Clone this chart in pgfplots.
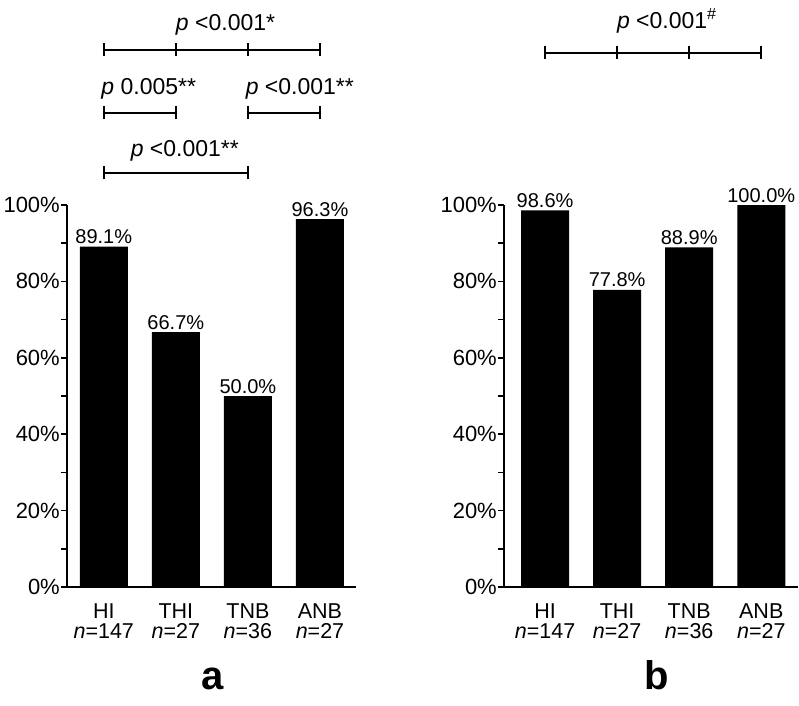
\documentclass[border=0pt]{standalone}
\usepackage{pgfplots}
\pgfplotsset{compat=1.18}
\usepackage{fontspec}
\setmainfont{Liberation Sans}
\newcommand\tk[2]{\draw[line width=1.8pt] (axis cs:#1,#2) ++(0pt,-6.5pt) -- ++(0pt,13pt);}
\begin{document}
\begin{tikzpicture}
\useasboundingbox (0pt,0pt) rectangle (799pt,705pt);
\pgfplotsset{
 panel/.style={
  scale only axis, height=382pt,
  axis lines*=left, axis line style={line width=2pt},
  ymin=0, ymax=100, ytick={0,20,...,100}, minor y tick num=1,
  tick align=outside, major tick length=6pt, minor tick length=6pt,
  tick style={line width=1.6pt, black},
  yticklabel={\pgfmathprintnumber{\tick}\%},
  /pgf/number format/assume math mode=true,
  yticklabel style={font=\fontsize{22}{24}\selectfont, inner sep=1pt},
  xtick={0,1,2,3},
  xticklabels={{HI\\\textit{n}=147},{THI\\\textit{n}=27},{TNB\\\textit{n}=36},{ANB\\\textit{n}=27}},
  xticklabel style={align=center, font=\fontsize{21.5}{20}\selectfont, yshift=-7pt},
  x tick style={draw=none},
  ybar, bar width=48pt,
  nodes near coords={\pgfmathprintnumber[fixed,fixed zerofill,precision=1]{\pgfplotspointmeta}\%},
  nodes near coords style={font=\fontsize{20}{22}\selectfont, black, inner sep=2.5pt},
  clip=false,
 }
}
\begin{axis}[panel, width=289pt, xmin=-0.51, xmax=3.5, at={(67pt,118pt)}, anchor=south west]
\addplot[fill=black, draw=none] coordinates {(0,89.1) (1,66.7) (2,50.0) (3,96.3)};
% brackets
\draw[line width=1.8pt] (axis cs:0,140.6) -- (axis cs:3,140.6);
\tk{0}{140.6}\tk{1}{140.6}\tk{2}{140.6}\tk{3}{140.6}
\draw[line width=1.8pt] (axis cs:0,124.1) -- (axis cs:1,124.1);
\tk{0}{124.1}\tk{1}{124.1}
\draw[line width=1.8pt] (axis cs:2,124.1) -- (axis cs:3,124.1);
\tk{2}{124.1}\tk{3}{124.1}
\node[anchor=base, font=\fontsize{23}{25}\selectfont, inner sep=0pt] at (axis cs:1.69,145.8) {\textit{p} <0.001*};
\node[anchor=base, font=\fontsize{23}{25}\selectfont, inner sep=0pt] at (axis cs:0.625,128.8) {\textit{p} 0.005**};
\node[anchor=base, font=\fontsize{23}{25}\selectfont, inner sep=0pt] at (axis cs:2.72,128.8) {\textit{p} <0.001**};
\draw[line width=1.8pt] (axis cs:0,108.4) -- (axis cs:2,108.4);
\tk{0}{108.4}\tk{2}{108.4}
\node[anchor=base, font=\fontsize{23}{25}\selectfont, inner sep=0pt] at (axis cs:1.125,112.6) {\textit{p} <0.001**};
\end{axis}
\begin{axis}[panel, width=294pt, xmin=-0.57, xmax=3.51, at={(504pt,118pt)}, anchor=south west]
\addplot[fill=black, draw=none] coordinates {(0,98.6) (1,77.8) (2,88.9) (3,100.0)};
\draw[line width=1.8pt] (axis cs:0,139.8) -- (axis cs:3,139.8);
\tk{0}{139.8}\tk{1}{139.8}\tk{2}{139.8}\tk{3}{139.8}
\node[anchor=base, font=\fontsize{23}{25}\selectfont, inner sep=0pt] at (axis cs:1.69,146.3) {\textit{p} <0.001\textsuperscript{\#}};
\end{axis}
\node[anchor=base, inner sep=0pt, font=\bfseries\fontsize{40}{44}\selectfont] at (213pt,16pt) {a};
\node[anchor=base, inner sep=0pt, font=\bfseries\fontsize{40}{44}\selectfont] at (657pt,16pt) {b};
\end{tikzpicture}
\end{document}
